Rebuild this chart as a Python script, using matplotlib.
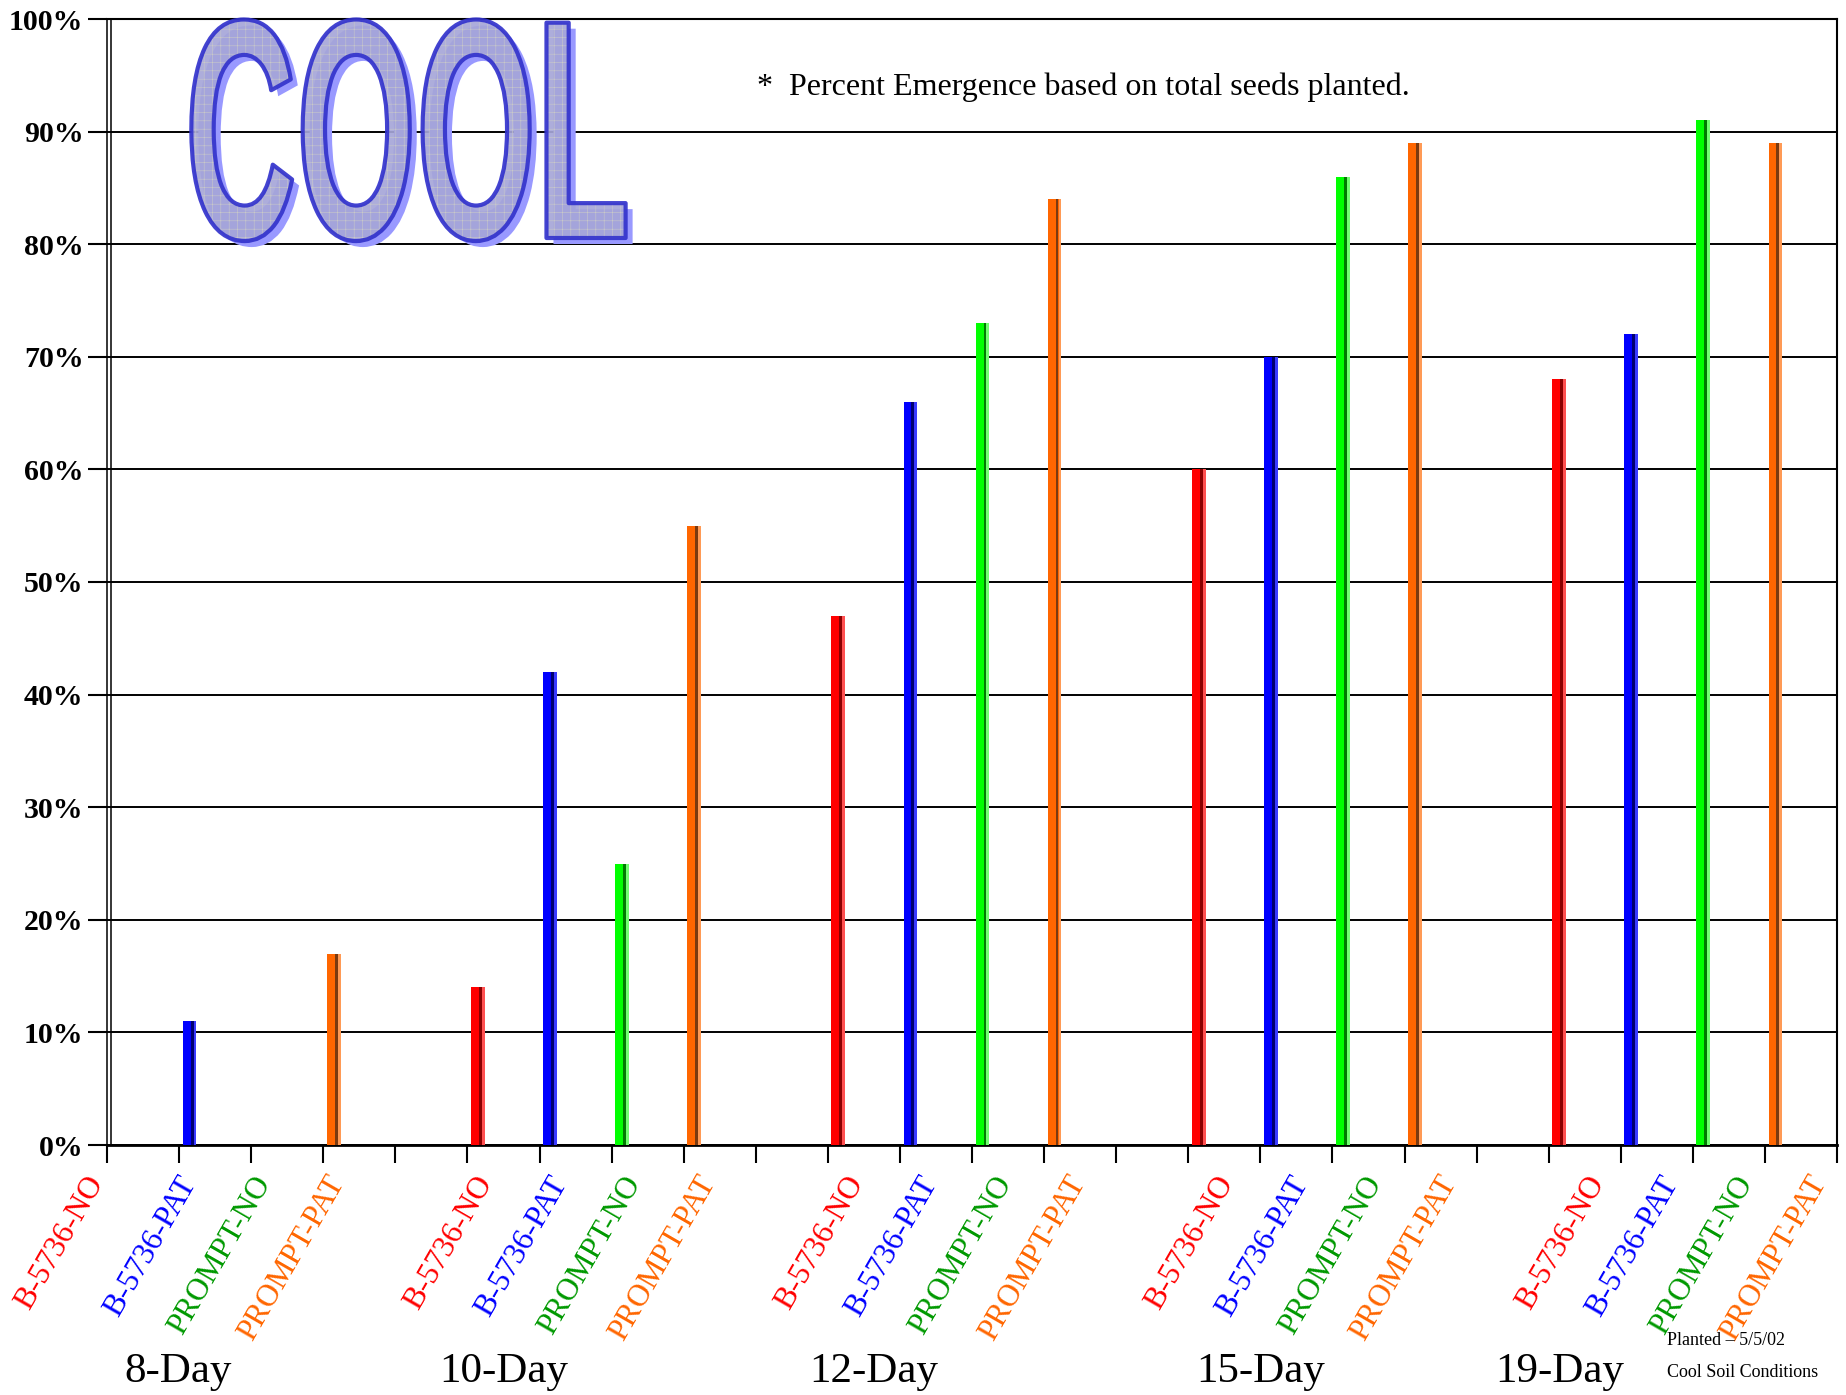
import matplotlib
matplotlib.use('Agg')
import matplotlib.pyplot as plt
import matplotlib.patheffects as pe
import matplotlib.colors as mcolors
from matplotlib.transforms import Affine2D, ScaledTranslation, blended_transform_factory
import numpy as np

# percent emergence, cool soil, planted 5/5/02
days = ['8-Day', '10-Day', '12-Day', '15-Day', '19-Day']
entries = ['B-5736-NO', 'B-5736-PAT', 'PROMPT-NO', 'PROMPT-PAT']
b5736_no = [0, 14, 47, 60, 68]
b5736_pat = [11, 42, 66, 70, 72]
prompt_no = [0, 25, 73, 86, 91]
prompt_pat = [17, 55, 84, 89, 89]
series = [b5736_no, b5736_pat, prompt_no, prompt_pat]

bar_colors = ['#ff0000', '#0000ff', '#00ff00', '#ff6600']
dark_colors = ['#8a0000', '#000070', '#007a00', '#7a3a10']
light_colors = ['#ff5050', '#3a3aff', '#70ff70', '#ff9a55']
label_colors = ['#ff0000', '#0000ff', '#009900', '#ff6600']
day_label_x = [0.98, 5.5, 10.64, 16.0, 20.15]

plt.rcParams['font.family'] = 'Liberation Serif'

W, H = 1846, 1395
fig = plt.figure(figsize=(W / 100, H / 100), dpi=100)
ax = fig.add_axes([107 / W, 1 - 1145 / H, 1730 / W, 1126 / H])

slots = np.arange(len(days)) * 5
for i, vals in enumerate(series):
    x = slots + i
    ax.bar(x + 0.05, vals, width=0.19, align='edge', color=bar_colors[i], zorder=3)
    ax.bar(x + 0.16, vals, width=0.04, align='edge', color=dark_colors[i], zorder=4)
    ax.bar(x + 0.20, vals, width=0.04, align='edge', color=light_colors[i], zorder=4)

ax.set_xlim(0, 24)
ax.set_ylim(0, 100)
ax.set_yticks(range(0, 101, 10))
ax.set_yticklabels([f'{v}%' for v in range(0, 101, 10)], fontweight='bold')
ax.set_xticks(range(25))
ax.set_xticklabels([])

# slanted entry names; in the original they drift slightly right of the ticks
spread = 1.028
lab_tr = ax.get_xaxis_transform() + ScaledTranslation(0, -24 / 72, fig.dpi_scale_trans)
first_tr = ax.get_xaxis_transform() + ScaledTranslation(-7 / 72, -24 / 72, fig.dpi_scale_trans)
for g in range(len(days)):
    for i, name in enumerate(entries):
        s = g * 5 + i
        if s == 0:
            xl, t = 0, first_tr
        else:
            xl, t = s * spread + 0.125, lab_tr
        ax.text(xl, 0, name, transform=t, color=label_colors[i],
                fontsize=22.5, rotation=60, ha='right', va='center',
                rotation_mode='anchor')

ax.tick_params(axis='x', length=13, width=1.5, direction='out')
ax.tick_params(axis='y', length=14, width=1.5, direction='out', pad=3, labelsize=21.5)

ax.yaxis.grid(True, color='k', lw=1.4)
ax.set_axisbelow(True)
ax.spines['left'].set_linewidth(1.1)
ax.spines['bottom'].set_linewidth(2)
ax.spines['top'].set_linewidth(1.5)
ax.spines['right'].set_linewidth(1.5)
ax.plot([3.5 / 1730] * 2, [0, 1], transform=ax.transAxes, color='k', lw=1.1,
        clip_on=False, zorder=5)

tr = blended_transform_factory(ax.transData, fig.transFigure)
for xd, d in zip(day_label_x, days):
    ax.text(xd, 1 - 1382 / H, d, transform=tr, ha='center', va='baseline', fontsize=31)

fig.text(757 / W, 1 - 95 / H, '*  Percent Emergence based on total seeds planted.',
         fontsize=23, va='baseline')
fig.text(1667 / W, 1 - 1345 / H, 'Planted \u2013 5/5/02', fontsize=13, va='baseline')
fig.text(1667 / W, 1 - 1377 / H, 'Cool Soil Conditions', fontsize=13, va='baseline')


# stretched outline text for the big "COOL" banner
class Stretch(pe.AbstractPathEffect):
    def __init__(self, x0, y0, sy, dx=0, dy=0, fc='none', ec=None, lw=0,
                 hatch=None, hatch_color=None, alpha=1.0):
        super().__init__()
        self.t = Affine2D().translate(-x0, -y0).scale(1, sy).translate(x0 + dx, y0 + dy)
        self.fc, self.ec, self.lw = fc, ec, lw
        self.hatch, self.hatch_color, self.alpha = hatch, hatch_color, alpha

    def draw_path(self, renderer, gc, tpath, affine, rgbFace=None):
        gc0 = renderer.new_gc()
        gc0.copy_properties(gc)
        gc0.set_alpha(self.alpha)
        gc0.set_linewidth(self.lw)
        if self.ec is not None:
            gc0.set_foreground(self.ec)
        if self.hatch:
            gc0.set_hatch(self.hatch)
            gc0.set_hatch_color(mcolors.to_rgba(self.hatch_color))
        face = None if self.fc == 'none' else mcolors.to_rgba(self.fc)
        renderer.draw_path(gc0, tpath, affine + self.t, face)
        gc0.restore()


plt.rcParams['hatch.linewidth'] = 0.4
x0, y0 = 185, H - 238
sy = 2.03
fig.text(x0 / W, y0 / H, 'COOL', fontsize=111, fontweight='bold',
         family='Liberation Sans', ha='left', va='baseline', zorder=6,
         path_effects=[
             Stretch(x0, y0, sy, dx=7, dy=-6, fc='#9999ff'),
             Stretch(x0, y0, sy, fc='#a6a6d8', ec='#3333cc', lw=3,
                     hatch='++', hatch_color='#c8c8c8', alpha=0.92),
         ])

fig.savefig('out.png', dpi=100)
